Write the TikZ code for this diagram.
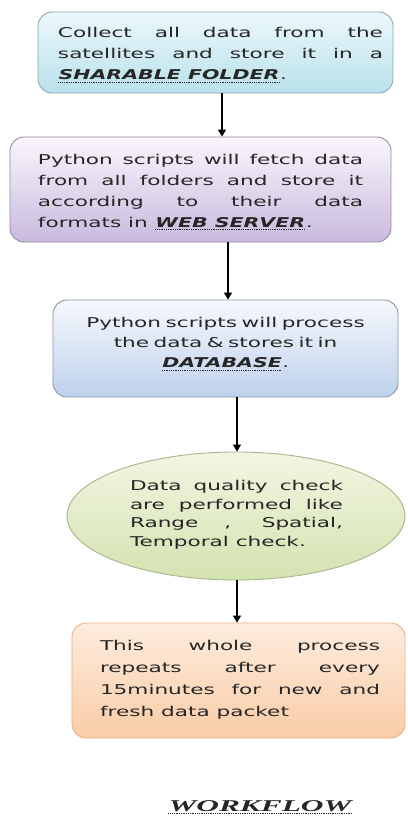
\documentclass[tikz,border=0pt]{standalone}
\usepackage{fontspec}
\usetikzlibrary{arrows.meta,shapes.geometric}
\newfontfamily\bodyfont[FakeStretch=1.6]{DejaVu Sans}
\newfontfamily\keyfont[FakeStretch=1.52]{DejaVu Sans}
\newfontfamily\titlefont[FakeStretch=1.9]{Liberation Serif}
% bold italic word with a dotted underline
\newcommand\dotrule[1]{\tikz[baseline=(k.base)]{\node[inner sep=0pt] (k) {#1};
  \draw[line width=0.9pt, dash pattern=on 0.9pt off 0.9pt] ([yshift=-2.4pt]k.base west) -- ([yshift=-2.4pt]k.base east);}}
\newcommand\keyword[1]{\dotrule{\keyfont\bfseries\itshape #1}}
\definecolor{inkc}{HTML}{262626}
\definecolor{cyanTop}{RGB}{236,248,251}
\definecolor{cyanBot}{RGB}{185,225,235}
\definecolor{cyanEdge}{RGB}{140,168,178}
\definecolor{lilacTop}{RGB}{250,246,252}
\definecolor{lilacBot}{RGB}{200,186,222}
\definecolor{lilacEdge}{RGB}{150,140,160}
\definecolor{blueTop}{RGB}{246,249,253}
\definecolor{blueBot}{RGB}{190,208,236}
\definecolor{blueEdge}{RGB}{136,152,168}
\definecolor{greenTop}{RGB}{242,246,226}
\definecolor{greenBot}{RGB}{212,226,176}
\definecolor{greenEdge}{RGB}{168,180,140}
\definecolor{peachTop}{RGB}{253,236,222}
\definecolor{peachBot}{RGB}{249,204,166}
\definecolor{peachEdge}{RGB}{236,178,136}
\tikzset{
  card/.style={draw=#1, line width=0.9bp, rounded corners=14bp, inner sep=0pt},
  txt/.style={inner sep=0pt, font=\bodyfont\fontsize{13.5bp}{21bp}\selectfont, text=inkc},
  flow/.style={draw=black, line width=1.3bp, -{Triangle[width=8bp,length=7bp]}}
}
\begin{document}
\begin{tikzpicture}[x=1bp,y=-1bp]
\useasboundingbox[fill=white] (0,0) rectangle (407,817);

% step boxes
\node[card=cyanEdge, top color=cyanTop, bottom color=cyanBot,
      minimum width=355bp, minimum height=81bp] (b1) at (215.5,52.5) {};
\node[card=lilacEdge, top color=lilacTop, bottom color=lilacBot,
      minimum width=381bp, minimum height=105bp] (b2) at (200.5,189.5) {};
\node[card=blueEdge, top color=blueTop, bottom color=blueBot,
      minimum width=345bp, minimum height=97bp] (b3) at (225.5,348.5) {};
\node[ellipse, draw=greenEdge, line width=0.9bp, inner sep=0pt,
      top color=greenTop, bottom color=greenBot,
      minimum width=338bp, minimum height=128bp] (b4) at (236,516) {};
\node[card=peachEdge, top color=peachTop, bottom color=peachBot,
      minimum width=333bp, minimum height=115bp] (b5) at (238.5,680.5) {};

% texts
\node[txt, text width=325bp, align=justify] (t1) at (220.5,55) {%
Collect all data from the\linebreak satellites and store it in a\linebreak \keyword{SHARABLE FOLDER}.};
\node[txt, text width=325bp, align=justify] (t2) at (200.5,192) {%
Python scripts will fetch data\linebreak from all folders and store it\linebreak according to their data\linebreak formats in \keyword{WEB SERVER}.};
\node[txt, text width=325bp, align=center, font=\bodyfont\fontsize{13.5bp}{20bp}\selectfont] (t3) at (225.5,344) {%
Python scripts will process\\ the data \& stores it in\\ \keyword{DATABASE}.};
\node[txt, text width=213bp, align=justify, font=\bodyfont\fontsize{13.5bp}{18.5bp}\selectfont] (t4) at (236.5,515) {%
Data quality check\linebreak are performed like\linebreak Range , Spatial,\linebreak Temporal check.};
\node[txt, text width=280bp, align=justify, font=\bodyfont\fontsize{13.5bp}{22bp}\selectfont] (t5) at (240,680) {%
This whole process\linebreak repeats after every\linebreak 15minutes for new and\linebreak fresh data packet};

% connectors
\draw[flow] (b1.south -| 222,0) -- (b2.north -| 222,0);
\draw[flow] (b2.south -| 228,0) -- (b3.north -| 228,0);
\draw[flow] (b3.south -| 237,0) -- (b4.north -| 237,0);
\draw[flow] (b4.south -| 237,0) -- (b5.north -| 237,0);

% caption
\node[inner sep=0pt, text=inkc, font=\titlefont\fontsize{16.5bp}{18bp}\selectfont\bfseries\itshape] (cap) at (260,807)
  {\dotrule{WORKFLOW}};
\end{tikzpicture}
\end{document}
